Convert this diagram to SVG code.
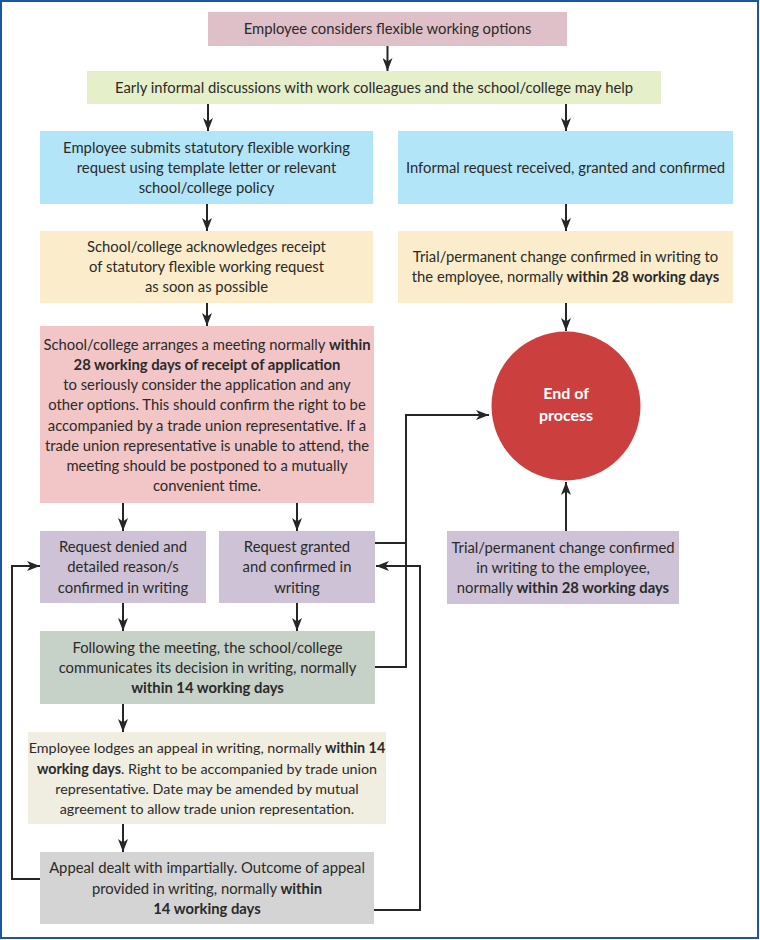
<svg xmlns="http://www.w3.org/2000/svg" width="760" height="940" viewBox="0 0 760 940">
<defs>
<marker id="ah" markerUnits="userSpaceOnUse" markerWidth="14" markerHeight="10" refX="13" refY="5" orient="auto">
<path d="M0,0 L13,5 L0,10 L3.5,5 z" fill="#262626"/>
</marker>
<style>
.t{font-family:Lato,"Noto Sans",sans-serif;font-size:14.8px;fill:#2a2a2a;text-anchor:middle}
.s{font-size:14.3px}
.b{font-weight:bold}
.c{fill:none;stroke:#262626;stroke-width:2}
.ct{font-family:Lato,"Noto Sans",sans-serif;font-size:16px;font-weight:bold;fill:#ffffff;text-anchor:middle}
</style>
</defs>
<rect x="0" y="0" width="760" height="940" fill="#ffffff"/>
<rect x="1" y="1" width="757" height="937" fill="none" stroke="#1d56a0" stroke-width="2"/>

<g id="n1"><rect x="208" y="12" width="359" height="34" fill="#dfbfc8"/>
<text class="t" x="387.5" y="34">Employee considers flexible working options</text></g>

<g id="n2"><rect x="87" y="71" width="574" height="33" fill="#e5efc9"/>
<text class="t" x="374" y="93">Early informal discussions with work colleagues and the school/college may help</text></g>

<g id="n3"><rect x="40" y="131" width="333" height="73" fill="#b3e5f8"/>
<text class="t" x="206.5" y="153">Employee submits statutory flexible working</text>
<text class="t" x="206.5" y="173">request using template letter or relevant</text>
<text class="t" x="206.5" y="193">school/college policy</text></g>

<g id="n4"><rect x="398" y="131" width="335" height="73" fill="#b3e5f8"/>
<text class="t" x="565.5" y="173">Informal request received, granted and confirmed</text></g>

<g id="n5"><rect x="40" y="231" width="333" height="72" fill="#fbedcb"/>
<text class="t" x="206.5" y="252">School/college acknowledges receipt</text>
<text class="t" x="206.5" y="272">of statutory flexible working request</text>
<text class="t" x="206.5" y="292">as soon as possible</text></g>

<g id="n6"><rect x="398" y="231" width="335" height="72" fill="#fbedcb"/>
<text class="t" x="565.5" y="262">Trial/permanent change confirmed in writing to</text>
<text class="t" x="565.5" y="282">the employee, normally <tspan class="b">within 28 working days</tspan></text></g>

<g id="n7"><rect x="40" y="326" width="334" height="177" fill="#f2c5c6"/>
<text class="t" x="207" y="350">School/college arranges a meeting normally <tspan class="b">within</tspan></text>
<text class="t b" x="207" y="370">28 working days of receipt of application</text>
<text class="t" x="207" y="390">to seriously consider the application and any</text>
<text class="t" x="207" y="410">other options. This should confirm the right to be</text>
<text class="t" x="207" y="431">accompanied by a trade union representative. If a</text>
<text class="t" x="207" y="451">trade union representative is unable to attend, the</text>
<text class="t" x="207" y="471">meeting should be postponed to a mutually</text>
<text class="t" x="207" y="491">convenient time.</text></g>

<g id="n8"><circle cx="566" cy="406" r="74.5" fill="#cc3f3f"/>
<text class="ct" x="566" y="399">End of</text>
<text class="ct" x="566" y="421">process</text></g>

<g id="n9"><rect x="40" y="531" width="166" height="72" fill="#cdc2d6"/>
<text class="t" x="123" y="552">Request denied and</text>
<text class="t" x="123" y="572">detailed reason/s</text>
<text class="t" x="123" y="593">confirmed in writing</text></g>

<g id="n10"><rect x="219" y="531" width="156" height="72" fill="#cdc2d6"/>
<text class="t" x="297" y="552">Request granted</text>
<text class="t" x="297" y="572">and confirmed in</text>
<text class="t" x="297" y="593">writing</text></g>

<g id="n11"><rect x="447" y="531" width="232" height="73" fill="#cdc2d6"/>
<text class="t" x="563" y="553">Trial/permanent change confirmed</text>
<text class="t" x="563" y="573">in writing to the employee,</text>
<text class="t" x="563" y="593">normally <tspan class="b">within 28 working days</tspan></text></g>

<g id="n12"><rect x="40" y="631" width="335" height="73" fill="#c6d1c7"/>
<text class="t" x="207.5" y="653">Following the meeting, the school/college</text>
<text class="t" x="207.5" y="673">communicates its decision in writing, normally</text>
<text class="t b" x="207.5" y="693">within 14 working days</text></g>

<g id="n13"><rect x="28" y="732" width="358" height="92" fill="#f0ede1"/>
<text class="t s" x="207" y="753">Employee lodges an appeal in writing, normally <tspan class="b">within 14</tspan></text>
<text class="t s" x="207" y="774"><tspan class="b">working days</tspan>. Right to be accompanied by trade union</text>
<text class="t s" x="207" y="794">representative. Date may be amended by mutual</text>
<text class="t s" x="207" y="814">agreement to allow trade union representation.</text></g>

<g id="n14"><rect x="40" y="852" width="334" height="72" fill="#d4d4d4"/>
<text class="t" x="207" y="873">Appeal dealt with impartially. Outcome of appeal</text>
<text class="t" x="207" y="894">provided in writing, normally <tspan class="b">within</tspan></text>
<text class="t b" x="207" y="914">14 working days</text></g>

<g id="connectors">
<line class="c" x1="387.5" y1="46" x2="387.5" y2="71" marker-end="url(#ah)"/>
<line class="c" x1="208" y1="104" x2="208" y2="131" marker-end="url(#ah)"/>
<line class="c" x1="566" y1="104" x2="566" y2="131" marker-end="url(#ah)"/>
<line class="c" x1="207" y1="204" x2="207" y2="231" marker-end="url(#ah)"/>
<line class="c" x1="566" y1="204" x2="566" y2="231" marker-end="url(#ah)"/>
<line class="c" x1="207" y1="303" x2="207" y2="326" marker-end="url(#ah)"/>
<line class="c" x1="566" y1="303" x2="566" y2="331" marker-end="url(#ah)"/>
<line class="c" x1="123" y1="503" x2="123" y2="531" marker-end="url(#ah)"/>
<line class="c" x1="297" y1="503" x2="297" y2="531" marker-end="url(#ah)"/>
<line class="c" x1="123" y1="603" x2="123" y2="631" marker-end="url(#ah)"/>
<line class="c" x1="297" y1="603" x2="297" y2="631" marker-end="url(#ah)"/>
<line class="c" x1="123" y1="704" x2="123" y2="732" marker-end="url(#ah)"/>
<line class="c" x1="123" y1="824" x2="123" y2="852" marker-end="url(#ah)"/>
<line class="c" x1="566" y1="531" x2="566" y2="482" marker-end="url(#ah)"/>
<polyline class="c" points="375,543 406,543"/>
<polyline class="c" points="375,667 406,667 406,415 489,415" marker-end="url(#ah)"/>
<polyline class="c" points="374,910 420,910 420,566 376,566" marker-end="url(#ah)"/>
<polyline class="c" points="40,879 12,879 12,566 40,566" marker-end="url(#ah)"/>
</g>
</svg>
